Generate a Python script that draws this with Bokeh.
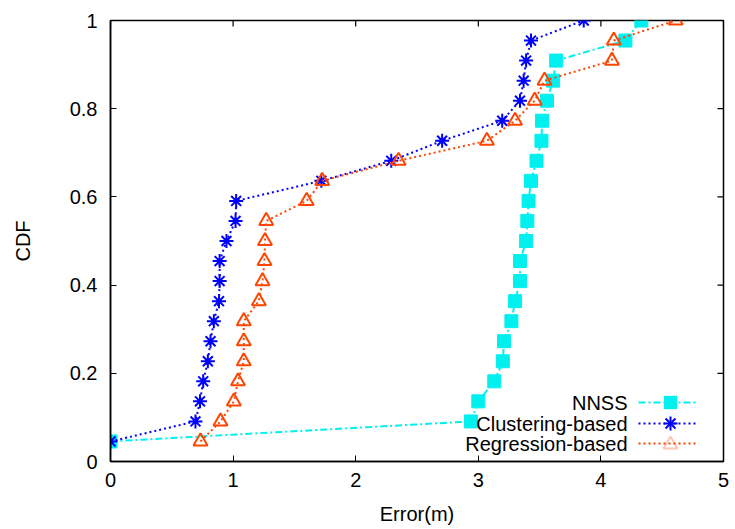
import math
from bokeh.plotting import figure
from bokeh.models import (FixedTicker, Range1d, Label, Arrow, BoxAnnotation,
                          PolyAnnotation)
from bokeh.embed import file_html
from bokeh.resources import INLINE

# CDF levels (k/22)
cdf = [k / 22 for k in range(1, 23)]

nnss_err = [0.0, 2.94, 3.00, 3.13, 3.20, 3.21, 3.27, 3.30, 3.34, 3.34, 3.39,
            3.40, 3.41, 3.43, 3.475, 3.515, 3.52, 3.56, 3.61, 3.635, 4.20, 4.33]
clustering_err = [0.0, 0.693, 0.73, 0.756, 0.794, 0.816, 0.843, 0.885, 0.89, 0.89, 0.946,
                  1.02, 1.025, 1.72, 2.29, 2.705, 3.195, 3.34, 3.37, 3.39, 3.43, 3.86]
regression_err = [0.734, 0.897, 1.006, 1.04, 1.087, 1.087, 1.087, 1.21, 1.24, 1.256, 1.26,
                  1.27, 1.60, 1.727, 2.35, 3.07, 3.30, 3.46, 3.54, 4.09, 4.105, 4.61]
series_names = ["NNSS", "Clustering-based", "Regression-based"]

x_ticks = [0, 1, 2, 3, 4, 5]
y_ticks = [0, 0.2, 0.4, 0.6, 0.8, 1.0]
y_tick_labels = ["0", "0.2", "0.4", "0.6", "0.8", "1"]

X_MIN, X_MAX = 0, 5
Y_MIN, Y_MAX = 0, 1

FONT = "Liberation Sans"
CYAN = "#00F0F0"
BLUE = "#0000FF"
ORANGE = "#FF4500"
DASH = ["7 3 2 3", "2 3", "2 3"]

p = figure(width=735, height=529, output_backend="svg", toolbar_location=None,
           x_range=Range1d(X_MIN, X_MAX), y_range=Range1d(Y_MIN, Y_MAX),
           min_border_left=110, min_border_right=12, min_border_top=20, min_border_bottom=68)
p.xgrid.visible = False
p.ygrid.visible = False
p.outline_line_color = "black"
p.outline_line_width = 1.5
p.background_fill_color = "white"
p.border_fill_color = "white"

# series
p.line(nnss_err, cdf, line_color=CYAN, line_width=2, line_dash=DASH[0])
p.scatter(nnss_err, cdf, marker="square", size=13, fill_color=CYAN, line_color=CYAN)
p.line(clustering_err, cdf, line_color=BLUE, line_width=2, line_dash=DASH[1])
p.scatter(clustering_err, cdf, marker="asterisk", size=14, line_color=BLUE, line_width=2)
p.line(regression_err, cdf, line_color=ORANGE, line_width=2, line_dash=DASH[2])
p.scatter(regression_err, cdf, marker="triangle", size=14, fill_color=None,
          line_color=ORANGE, line_width=2)

# mirrored inward ticks on the top and right edges (clipped to the frame)
p.scatter(x_ticks, [Y_MAX] * len(x_ticks), marker="dash", size=12, angle=math.pi / 2,
          line_color="black", line_width=1.2)
p.scatter([X_MAX] * len(y_ticks), y_ticks, marker="dash", size=12, angle=0,
          line_color="black", line_width=1.2)

# axes
xa = p.xaxis[0]
xa.ticker = FixedTicker(ticks=x_ticks)
xa.axis_label = "Error(m)"
ya = p.yaxis[0]
ya.ticker = FixedTicker(ticks=y_ticks)
ya.major_label_overrides = {t: s for t, s in zip(y_ticks, y_tick_labels)}
ya.axis_label = "CDF"
for ax in (xa, ya):
    ax.major_label_text_font = FONT
    ax.major_label_text_font_size = "20px"
    ax.major_label_text_color = "black"
    ax.axis_label_text_font = FONT
    ax.axis_label_text_font_size = "20px"
    ax.axis_label_text_font_style = "normal"
    ax.axis_label_text_color = "black"
    ax.major_tick_in = 6
    ax.major_tick_out = 0
    ax.minor_tick_line_color = None
    ax.axis_line_color = "black"
    ax.axis_line_width = 1.5
    ax.major_tick_line_color = "black"
xa.major_label_standoff = 11
xa.axis_label_standoff = 13
ya.major_label_standoff = 13
ya.axis_label_standoff = 33

# gnuplot-style key (screen pixels from the frame's bottom-left corner):
# right-aligned text, then a line sample with its marker to the right
KEY_TEXT_X = 517
KEY_LINE_X0, KEY_LINE_X1 = 528, 588
KEY_MARK_X = 560
KEY_ROWS_Y = [59, 38, 18]
colors = [CYAN, BLUE, ORANGE]
S = dict(x_units="screen", y_units="screen")
for name, col, dash, ky in zip(series_names, colors, DASH, KEY_ROWS_Y):
    p.add_layout(Label(x=KEY_TEXT_X, y=ky, text=name, text_align="right",
                       text_baseline="middle", text_font=FONT, text_font_size="20px",
                       text_color="black", **S))
    p.add_layout(Arrow(end=None, x_start=KEY_LINE_X0, y_start=ky, x_end=KEY_LINE_X1,
                       y_end=ky, start_units="screen", end_units="screen",
                       line_color=col, line_width=2, line_dash=dash))

# key markers
r = 6.5
ky = KEY_ROWS_Y[0]
p.add_layout(BoxAnnotation(left=KEY_MARK_X - r, right=KEY_MARK_X + r, bottom=ky - r, top=ky + r,
                           left_units="screen", right_units="screen", bottom_units="screen",
                           top_units="screen", fill_color=CYAN, fill_alpha=1,
                           line_color=CYAN, line_width=1))
ky = KEY_ROWS_Y[1]
r = 7
d = r / math.sqrt(2)
for (dx, dy) in [(r, 0), (0, r), (d, d), (d, -d)]:
    p.add_layout(Arrow(end=None, x_start=KEY_MARK_X - dx, y_start=ky - dy,
                       x_end=KEY_MARK_X + dx, y_end=ky + dy,
                       start_units="screen", end_units="screen",
                       line_color=BLUE, line_width=2))
ky = KEY_ROWS_Y[2]
p.add_layout(PolyAnnotation(xs=[KEY_MARK_X - 7, KEY_MARK_X + 7, KEY_MARK_X],
                            ys=[ky - 5, ky - 5, ky + 7], xs_units="screen", ys_units="screen",
                            fill_color=None, fill_alpha=0, line_color=ORANGE, line_width=2))

open("out.html", "w").write(file_html(p, INLINE))
